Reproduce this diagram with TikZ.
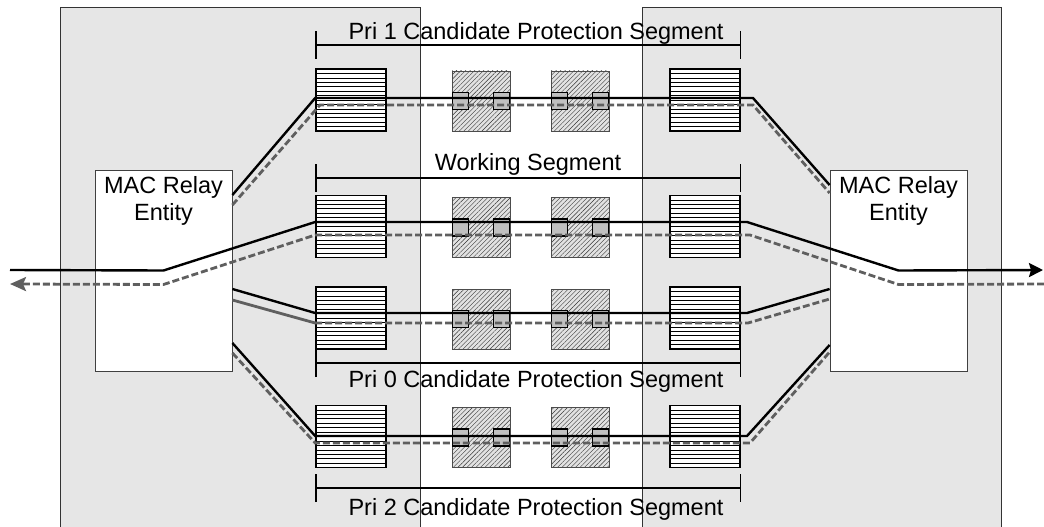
\documentclass[tikz,border=0pt]{standalone}
\usepackage{fontspec}
\setmainfont{Liberation Sans}
\usetikzlibrary{arrows.meta, patterns.meta, positioning}
\definecolor{panelgray}{HTML}{E6E6E6}
\definecolor{pathgray}{HTML}{5F5F5F}
\definecolor{portgray}{HTML}{C0C0C0}
\definecolor{hatchgray}{HTML}{E2E2E2}

\begin{document}
\begin{tikzpicture}[x=1pt, y=-1pt,
  panel/.style={fill=panelgray, draw=black!80, line width=1pt},
  relay/.style={draw=black!75, fill=white, line width=0.8pt, minimum width=137pt, minimum height=201pt, inner sep=0pt},
  queue/.style={draw, fill=white, line width=1.6pt, minimum width=70pt, minimum height=62pt, inner sep=0pt,
    path picture={\foreach \k in {1,...,13}
      \draw[line width=0.6pt] ([yshift=-\k*4.43pt]path picture bounding box.north west) -- ([yshift=-\k*4.43pt]path picture bounding box.north east);}},
  hatch/.style={draw=black!70, line width=0.8pt, preaction={fill=hatchgray},
    pattern={Lines[angle=45, distance=3.2pt, line width=0.4pt]}, pattern color=black!80,
    minimum width=58pt, minimum height=60pt, inner sep=0pt},
  port/.style={draw, fill=portgray, line width=1.3pt, minimum width=16pt, minimum height=17pt, inner sep=0pt},
  wire/.style={line width=2.4pt},
  back/.style={pathgray, line width=2.8pt, dash pattern=on 7pt off 3pt},
  dim/.style={line width=1.3pt, {Bar[width=28pt]}-{Bar[width=28pt]}},
  lbl/.style={font=\fontsize{23.5}{27}\selectfont, inner sep=0pt, anchor=base},
]
  \useasboundingbox (0,0) rectangle (1044,527);

  % Bridges
  \draw[panel] (60,8) rectangle (420,532);
  \draw[panel] (642,8) rectangle (1001,532);

  % Segment labels
  \node[lbl] (segPri1) at (536,40) {Pri 1 Candidate Protection Segment};
  \node[lbl] (segWork) at (528,170) {Working Segment};
  \node[lbl] (segPri0) at (536,387) {Pri 0 Candidate Protection Segment};
  \node[lbl] (segPri2) at (536,515) {Pri 2 Candidate Protection Segment};

  % MAC relays
  \node[relay] (macL) at (163.5,270.5) {};
  \node[relay] (macR) at (898.5,270.5) {};
  \node[lbl, align=center, below=7pt of macL.north] (macLtxt) {MAC Relay\\Entity};
  \node[lbl, align=center, below=7pt of macR.north] (macRtxt) {MAC Relay\\Entity};

  % Queues, bridges on the segment and their ports
  \foreach \r/\yc in {1/100,2/226.5,3/318,4/436.5} {
    \node[queue] (qL\r) at (351,\yc) {};
    \node[queue] (qR\r) at (705,\yc) {};
    \node[hatch] (hA\r) at (481,\yc+1) {};
    \node[hatch] (hB\r) at (580,\yc+1) {};
    \node[port, anchor=west] (pA\r) at (hA\r.west) {};
    \node[port, anchor=east] (pB\r) at (hA\r.east) {};
    \node[port, anchor=west] (pC\r) at (hB\r.west) {};
    \node[port, anchor=east] (pD\r) at (hB\r.east) {};
  }

  % Segment extents
  \draw[dim] (qL1.west |- 0,45) -- (qR1.east |- 0,45);
  \draw[dim] (qL2.west |- 0,178) -- (qR2.east |- 0,178);
  \draw[dim] (qL3.west |- 0,363) -- (qR3.east |- 0,363);
  \draw[dim] (qL4.west |- 0,488) -- (qR4.east |- 0,488);

  % Pri 1
  \draw[back] (macL.east |- 0,205) -- (320,105) -- (753,105) -- (macR.west |- 0,193);
  \draw[wire] (macL.east |- 0,195) -- (qL1.west |- 0,98) -- (753,98) -- (macR.west |- 0,185);

  % Working
  \coordinate (inL) at (10,270);
  \coordinate (outR) at (1043,270);
  \coordinate (inR) at (1044,284);
  \coordinate (outL) at (10,284);
  \draw[back, -{Stealth[length=16pt,width=14pt,inset=3pt]}] (inR) -- ([yshift=-14pt]macR.center) -- (750,235) -- (qL2.west |- 0,235) -- ([yshift=-14pt]macL.center) -- (outL);
  \draw[wire, -{Stealth[length=14pt,width=14pt,inset=2pt]}] (inL) -- (macL.center) -- (qL2.west |- 0,222) -- (747,222) -- (macR.center) -- (outR);

  % Pri 0
  \draw[pathgray, line width=2.8pt] (macL.east |- 0,300) -- (qL3.west |- 0,323);
  \draw[back] (qL3.west |- 0,323) -- (748,323) -- (macR.west |- 0,299);
  \draw[wire] (macL.east |- 0,289) -- (qL3.west |- 0,313) -- (747,313) -- (macR.west |- 0,289);

  % Pri 2
  \draw[back] (macL.east |- 0,353) -- (qL4.west |- 0,443) -- (750,443) -- (macR.west |- 0,352);
  \draw[wire] (macL.east |- 0,343) -- (qL4.west |- 0,436) -- (747,436) -- (macR.west |- 0,345);

\end{tikzpicture}
\end{document}
